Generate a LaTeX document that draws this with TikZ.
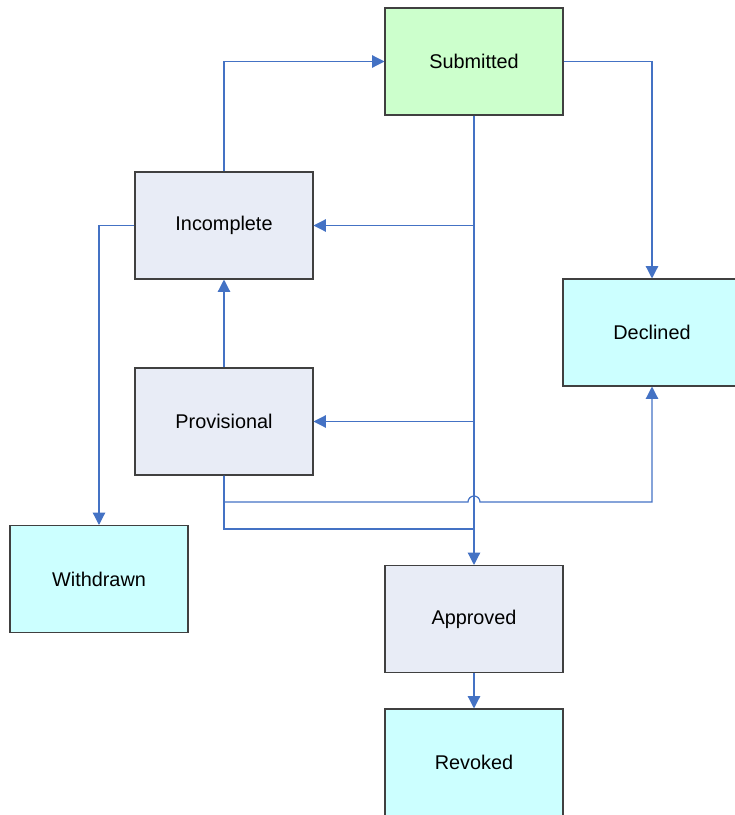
\documentclass[tikz,border=0pt]{standalone}
\usepackage{fontspec}
\setmainfont{Liberation Sans}
\usepackage{xcolor}
\usepackage{tikz}
\usetikzlibrary{arrows.meta}

\definecolor{linkblue}{RGB}{68,114,196}
\definecolor{subgreen}{RGB}{204,255,204}
\definecolor{stategray}{RGB}{232,236,246}
\definecolor{endcyan}{RGB}{204,255,255}

\begin{document}
\begin{tikzpicture}[x=0.02cm, y=-0.02cm,
  state/.style={draw=black!75, line width=0.6pt, minimum width=3.56cm,
    minimum height=2.14cm, inner sep=0pt, font=\fontsize{11.3}{13}\selectfont},
  link/.style={draw=linkblue, line width=0.7pt},
  linkarrow/.style={link, -{Triangle[width=7pt,length=7pt]}}]

\useasboundingbox (0,0) rectangle (734,815);

\node[state, fill=subgreen] (sub) at (474,61.5) {Submitted};
\node[state, fill=stategray] (inc) at (224,225.5) {Incomplete};
\node[state, fill=stategray] (prov) at (224,421.5) {Provisional};
\node[state, fill=endcyan] (decl) at (652,332.5) {Declined};
\node[state, fill=endcyan] (wd) at (99,579) {Withdrawn};
\node[state, fill=stategray] (appr) at (474,619) {Approved};
\node[state, fill=endcyan] (rev) at (474,762.5) {Revoked};

\coordinate (hop) at (468,502);
\coordinate (merge) at (474,529);

\path[linkarrow] (inc.north) |- (sub.west);
\path[linkarrow] (sub.east) -| (decl.north);
\path[linkarrow] (sub.south) -- (appr.north);
\path[linkarrow] (sub.south |- inc.east) -- (inc.east);
\path[linkarrow] (sub.south |- prov.east) -- (prov.east);
\path[linkarrow] (prov.north) -- (inc.south);
\path[linkarrow] (inc.west) -| (wd.north);
\path[linkarrow] (prov.south) |- (hop) arc[start angle=180, end angle=0, radius=0.12cm] -| (decl.south);
\path[link] (prov.south) |- (merge);
\path[linkarrow] (appr.south) -- (rev.north);

\end{tikzpicture}
\end{document}
